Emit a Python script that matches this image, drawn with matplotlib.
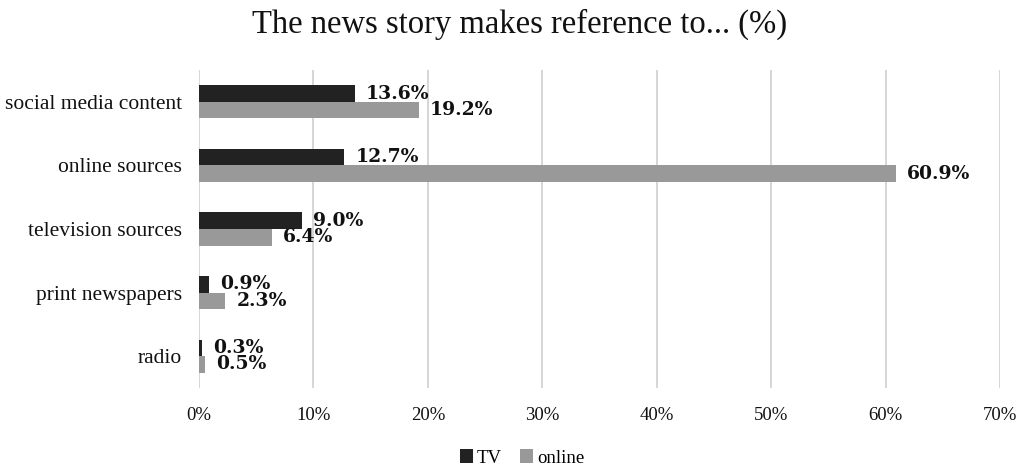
import matplotlib
matplotlib.use("Agg")
import matplotlib.pyplot as plt
import numpy as np

categories = ["social media content", "online sources", "television sources", "print newspapers", "radio"]
tv = [13.6, 12.7, 9.0, 0.9, 0.3]
online = [19.2, 60.9, 6.4, 2.3, 0.5]
tv_labels = ["13.6%", "12.7%", "9.0%", "0.9%", "0.3%"]
online_labels = ["19.2%", "60.9%", "6.4%", "2.3%", "0.5%"]
xticks = [0, 10, 20, 30, 40, 50, 60, 70]
xtick_labels = ["0%", "10%", "20%", "30%", "40%", "50%", "60%", "70%"]

plt.rcParams['font.family'] = ['Liberation Serif', 'DejaVu Serif']

fig = plt.figure(figsize=(10.26, 4.69), dpi=100)
ax = fig.add_axes([199/1026, 1-388/469, (1000-199)/1026, (388-70)/469])

y = np.arange(len(categories))
h = 0.26
tv_color = "#222222"
on_color = "#999999"
ax.barh(y - h/2, tv, height=h, color=tv_color, label="TV", zorder=3)
ax.barh(y + h/2, online, height=h, color=on_color, label="online", zorder=3)

lab_font = dict(fontsize=13.5, family=['DejaVu Serif'], fontweight="bold", color="#111111")
for yi, v, lab in zip(y, tv, tv_labels):
    ax.annotate(lab, (v, yi - h/2), xytext=(8, 0), textcoords="offset points",
                va="center", ha="left", **lab_font)
for yi, v, lab in zip(y, online, online_labels):
    ax.annotate(lab, (v, yi + h/2), xytext=(8, 0), textcoords="offset points",
                va="center", ha="left", **lab_font)

ax.set_ylim(len(categories) - 0.5, -0.5)
ax.set_xlim(0, 70)
ax.set_yticks(y)
ax.set_yticklabels(categories, fontsize=15.5, color="#111111")
ax.set_xticks(xticks)
ax.set_xticklabels(xtick_labels, fontsize=13.5, color="#111111")
ax.tick_params(axis="both", length=0)
ax.tick_params(axis="x", pad=14)
ax.tick_params(axis="y", pad=12)
ax.grid(axis="x", color="#d0d0d0", linewidth=1.2, zorder=0)
for s in ax.spines.values():
    s.set_visible(False)

fig.text(520/1026, 1-24/469, "The news story makes reference to... (%)", ha="center", va="center",
         fontsize=23.5, color="#111111")

handles, labels = ax.get_legend_handles_labels()
fig.legend(handles, labels, loc="center", bbox_to_anchor=(522/1026, 1-458/469), ncol=2,
           frameon=False, fontsize=13.5, handlelength=0.7, handleheight=0.7,
           handletextpad=0.2, columnspacing=1.0)

fig.savefig("out.png", dpi=100)
